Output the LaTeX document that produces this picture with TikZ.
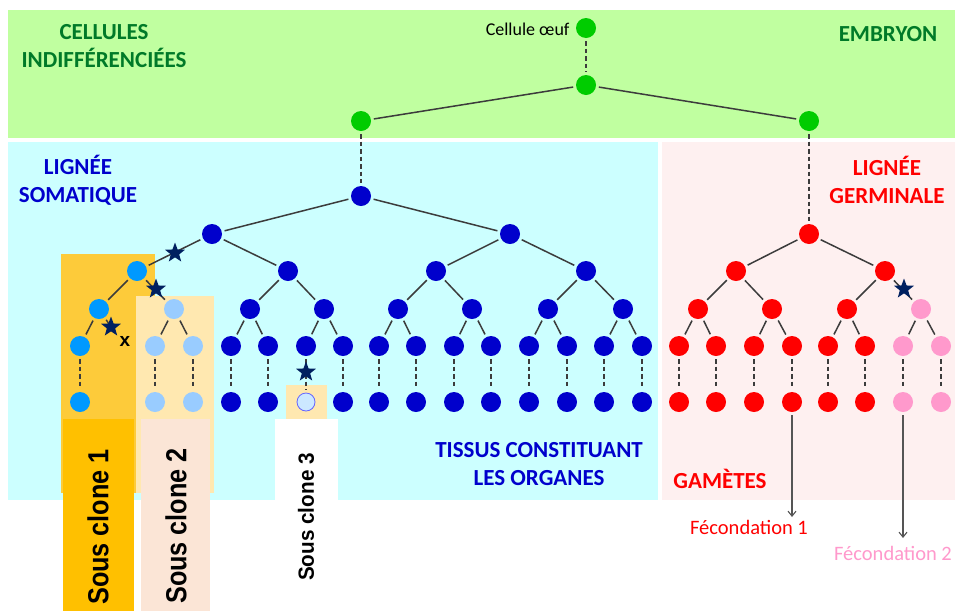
\documentclass[tikz,border=0pt]{standalone}
\usepackage{fontspec}
\setmainfont{Carlito}
\newfontfamily\arialf{Liberation Sans}
\usetikzlibrary{shapes.geometric,arrows.meta}
\definecolor{bggreen}{RGB}{192,255,160}
\definecolor{bgcyan}{RGB}{204,255,255}
\definecolor{bgpink}{RGB}{254,240,240}
\definecolor{ngreen}{RGB}{0,204,0}
\definecolor{nblue}{RGB}{0,0,204}
\definecolor{nlblue}{RGB}{0,153,255}
\definecolor{npblue}{RGB}{153,204,255}
\definecolor{nred}{RGB}{255,0,0}
\definecolor{npink}{RGB}{255,153,204}
\definecolor{tgreen}{RGB}{0,122,40}
\definecolor{navy}{RGB}{0,32,96}
\definecolor{orangebox}{RGB}{253,203,58}
\definecolor{palebox}{RGB}{255,232,176}
\definecolor{labone}{RGB}{255,192,0}
\definecolor{labtwo}{RGB}{251,229,214}
\definecolor{edgec}{RGB}{60,60,60}
\definecolor{arrc}{RGB}{85,85,85}
\tikzset{
  cell/.style={circle, minimum size=20pt, inner sep=0pt, outer sep=3pt},
  gc/.style={cell, fill=ngreen},
  bc/.style={cell, fill=nblue},
  lc/.style={cell, fill=nlblue},
  pc/.style={cell, fill=npblue},
  rc/.style={cell, fill=nred},
  kc/.style={cell, fill=npink},
  edge/.style={draw=edgec, line width=1.5pt},
  dedge/.style={edge, dash pattern=on 4.5pt off 3pt},
  mstar/.style={star, star points=5, star point ratio=2.4, fill=navy, minimum size=21pt, inner sep=0pt},
  title/.style={font=\fontsize{23}{28}\selectfont\bfseries, align=center},
  clonelab/.style={rotate=90, font=\arialf\bfseries},
  arr/.style={draw=arrc, line width=1.1pt, -{Straight Barb[length=5pt,width=8pt]}}
}
\begin{document}
\begin{tikzpicture}[x=1pt,y=-1pt]
\useasboundingbox (0,0) rectangle (955,611);
\fill[white] (0,0) rectangle (955,611);
% backgrounds
\fill[bggreen] (8,10) rectangle (955,138);
\fill[bgcyan] (8,142) rectangle (658,500);
\fill[bgpink] (662,142) rectangle (955,500);
% clone boxes
\fill[orangebox] (61,254) rectangle (155,493);
\fill[palebox] (136,296) rectangle (214,493);
\fill[palebox] (286,385) rectangle (327,419);
\fill[labone] (63,419) rectangle (134,611);
\fill[labtwo] (141,419) rectangle (210,611);
\fill[white] (275,419) rectangle (338,500);
% green nodes
\node[gc] (g0) at (586,28) {};
\node[gc] (g1) at (586,85) {};
\node[gc] (gL) at (361,121) {};
\node[gc] (gR) at (809,121) {};
% somatic tree
\node[bc] (s0) at (361,196) {};
\node[bc] (s1a) at (212,234) {};
\node[bc] (s1b) at (510,234) {};
\node[lc] (s2a) at (137,271) {};
\node[bc] (s2b) at (288,271) {};
\node[bc] (s2c) at (436,271) {};
\node[bc] (s2d) at (586,271) {};
\node[lc] (s3a) at (99,309) {};
\node[pc] (s3b) at (174,309) {};
\node[bc] (s3c) at (250,309) {};
\node[bc] (s3d) at (324,309) {};
\node[bc] (s3e) at (398,309) {};
\node[bc] (s3f) at (472,309) {};
\node[bc] (s3g) at (548,309) {};
\node[bc] (s3h) at (623,309) {};
\node[lc] (u80) at (80,346) {};
\node[lc] (v80) at (80,402) {};
\foreach \x in {155,193} {
  \node[pc] (u\x) at (\x,346) {};
  \node[pc] (v\x) at (\x,402) {};
}
\foreach \x in {231,268,306,343,379,416,454,491,529,567,604,642}
  \node[bc] (u\x) at (\x,346) {};
\foreach \x in {231,268,343,379,416,454,491,529,567,604,642}
  \node[bc] (v\x) at (\x,402) {};
\node[cell, fill={rgb,255:red,204;green,232;blue,255}, draw={rgb,255:red,100;green,100;blue,255}, line width=0.8pt, minimum size=18pt] (v306) at (306,402) {};
% germinal tree
\node[rc] (r0) at (809,234) {};
\node[rc] (r1a) at (736,271) {};
\node[rc] (r1b) at (885,271) {};
\node[rc] (r2a) at (698,309) {};
\node[rc] (r2b) at (772,309) {};
\node[rc] (r2c) at (847,309) {};
\node[kc] (r2d) at (921,309) {};
\foreach \x in {679,716,754,792,828,865} {
  \node[rc] (u\x) at (\x,346) {};
  \node[rc] (v\x) at (\x,402) {};
}
\foreach \x in {903,941} {
  \node[kc] (u\x) at (\x,346) {};
  \node[kc] (v\x) at (\x,402) {};
}
% edges
\draw[dedge] (g0) -- (g1);
\draw[dedge] (gL) -- (s0);
\draw[dedge] (gR) -- (r0);
\foreach \a/\b in {g1/gL, g1/gR, s0/s1a, s0/s1b, s1a/s2a, s1a/s2b, s1b/s2c, s1b/s2d,
  s2a/s3a, s2a/s3b, s2b/s3c, s2b/s3d, s2c/s3e, s2c/s3f, s2d/s3g, s2d/s3h,
  s3a/u80, s3b/u155, s3b/u193, s3c/u231, s3c/u268, s3d/u306, s3d/u343,
  s3e/u379, s3e/u416, s3f/u454, s3f/u491, s3g/u529, s3g/u567, s3h/u604, s3h/u642,
  r0/r1a, r0/r1b, r1a/r2a, r1a/r2b, r1b/r2c, r1b/r2d,
  r2a/u679, r2a/u716, r2b/u754, r2b/u792, r2c/u828, r2c/u865, r2d/u903, r2d/u941}
  \draw[edge] (\a) -- (\b);
\foreach \x in {80,155,193,231,268,306,343,379,416,454,491,529,567,604,642,679,716,754,792,828,865,903,941}
  \draw[dedge] (u\x) -- (v\x);
\coordinate (cut) at (111,327);
\draw[edge] (s3a) -- (cut);
% stars
\node[mstar] (st1) at (175,253) {};
\node[mstar] (st2) at (156,289) {};
\node[mstar] (st3) at (111,327) {};
\node[mstar] (st4) at (306,372) {};
\node[mstar] (st5) at (904,289) {};
\node[font=\fontsize{19}{20}\selectfont\bfseries\arialf] (xm) at (125,341) {x};
% titles
\node[title, text=tgreen] (t1) at (104,46) {CELLULES\\INDIFFÉRENCIÉES};
\node[title, text=tgreen] (t2) at (888,34) {EMBRYON};
\node[title, text=nblue] (t3) at (78,180) {LIGNÉE\\SOMATIQUE};
\node[title, text=nred] (t4) at (887,180) {LIGNÉE\\GERMINALE};
\node[title, text=nblue] (t5) at (539,464) {TISSUS CONSTITUANT\\LES ORGANES};
\node[title, text=nred] (t6) at (720,479) {GAMÈTES};
\node[font=\fontsize{18}{20}\selectfont, anchor=east] (egg) at (573,29) {Cellule œuf};
% clone labels
\node[clonelab] (c1) at (98,527) {\scalebox{0.87}[1]{\fontsize{29}{32}\selectfont Sous clone 1}};
\node[clonelab] (c2) at (176,526) {\scalebox{0.87}[1]{\fontsize{29}{32}\selectfont Sous clone 2}};
\node[clonelab] (c3) at (306,517) {\scalebox{0.94}[1]{\fontsize{22}{25}\selectfont Sous clone 3}};
% fecondation
\coordinate (f1) at (792,517);
\coordinate (f2) at (903,538);
\draw[arr] (v792) -- (f1);
\draw[arr] (v903) -- (f2);
\node[font=\fontsize{20.5}{22}\selectfont, text=nred] (fec1) at (749,527) {Fécondation 1};
\node[font=\fontsize{20.5}{22}\selectfont, text=npink] (fec2) at (893,553) {Fécondation 2};
\end{tikzpicture}
\end{document}
